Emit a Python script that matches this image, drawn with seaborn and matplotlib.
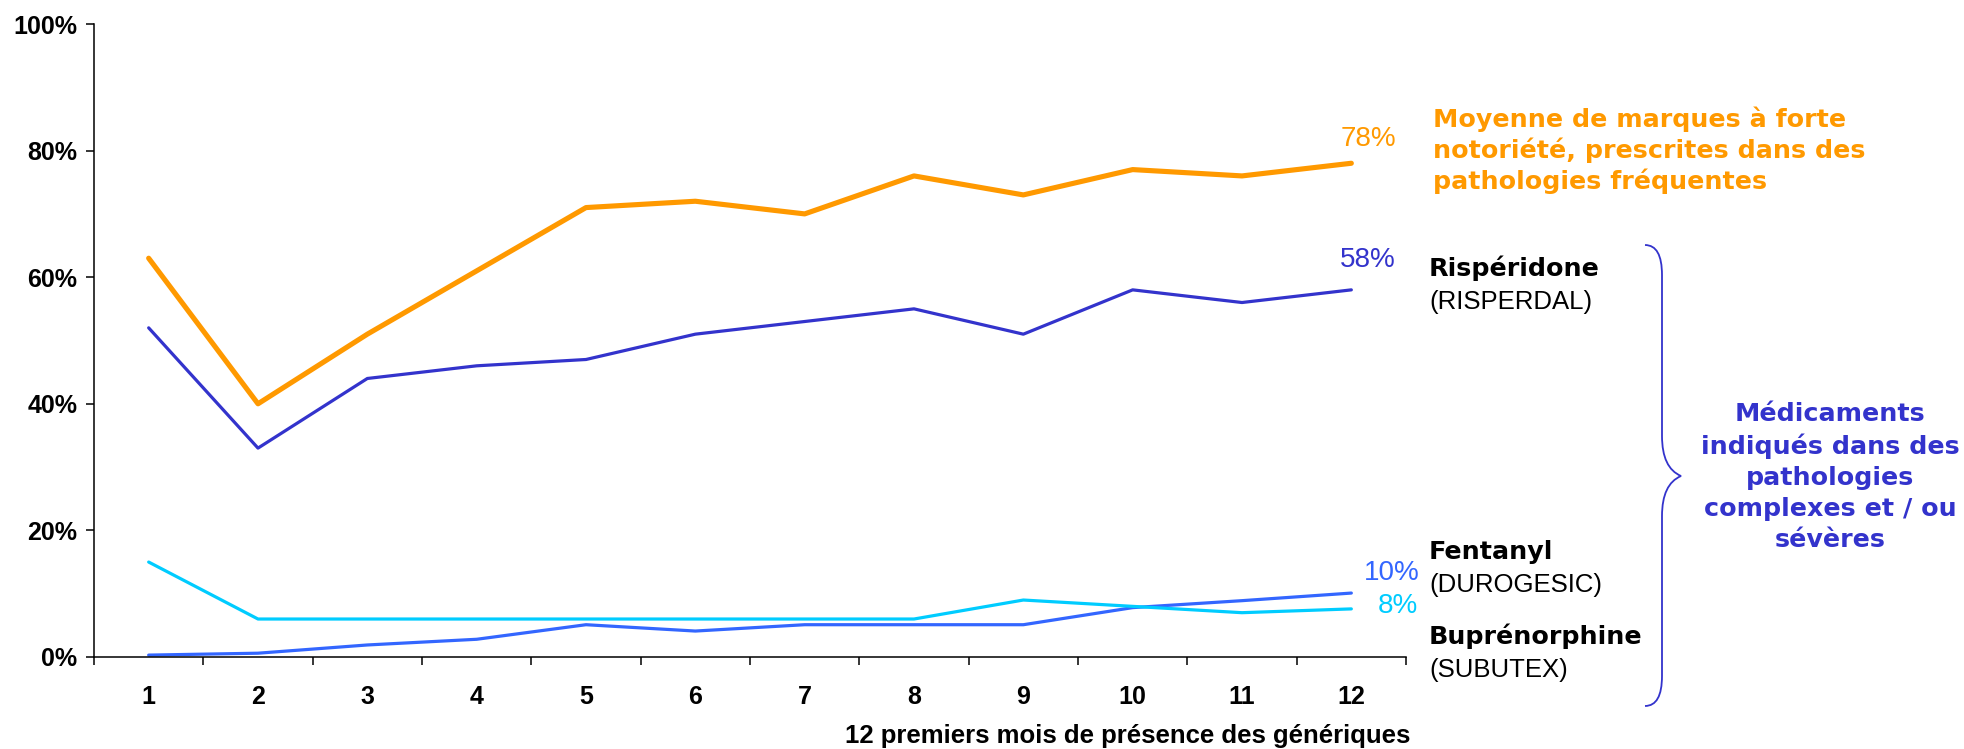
import matplotlib
matplotlib.use("Agg")
import matplotlib.pyplot as plt
from matplotlib.path import Path
from matplotlib.patches import PathPatch
import pandas as pd
import seaborn as sns

# Data
MONTHS = list(range(1, 13))
MARQUES = [63, 40, 51, 61, 71, 72, 70, 76, 73, 77, 76, 78]
RISPERIDONE = [52, 33, 44, 46, 47, 51, 53, 55, 51, 58, 56, 58]
FENTANYL = [0.3, 0.6, 1.9, 2.8, 5.1, 4.1, 5.1, 5.1, 5.1, 7.8, 8.9, 10.1]
BUPRENORPHINE = [15, 6, 6, 6, 6, 6, 6, 6, 9, 8, 7, 7.6]
SERIES = ["Marques", "Rispéridone", "Fentanyl", "Buprénorphine"]
Y_TICKS = [0, 20, 40, 60, 80, 100]
Y_LABELS = [f"{v}%" for v in Y_TICKS]
XLABEL = "12 premiers mois de présence des génériques"

COLORS = {"Marques": "#FF9900", "Rispéridone": "#3333CC",
          "Fentanyl": "#3366FF", "Buprénorphine": "#00CCFF"}
WIDTHS = {"Marques": 3.7, "Rispéridone": 2.3, "Fentanyl": 2.3, "Buprénorphine": 2.3}

W, H = 1964, 749


def fx(px):
    return px / W


def fy(px):
    return 1 - px / H


def main():
    frames = []
    for name, vals in zip(SERIES, [MARQUES, RISPERIDONE, FENTANYL, BUPRENORPHINE]):
        frames.append(pd.DataFrame({"mois": MONTHS, "part": vals, "serie": name}))
    df = pd.concat(frames, ignore_index=True)

    sns.set_style("ticks")
    plt.rcParams["font.family"] = ["Liberation Sans", "DejaVu Sans"]
    plt.rcParams["text.color"] = "black"

    fig = plt.figure(figsize=(W / 100, H / 100), dpi=100)
    ax = fig.add_axes([fx(94), fy(657), fx(1406 - 94), (657 - 24) / H])

    sns.lineplot(data=df, x="mois", y="part", hue="serie", size="serie",
                 hue_order=SERIES, size_order=SERIES,
                 palette=COLORS, sizes=WIDTHS, legend=False, ax=ax)

    ax.set_xlim(0.5, 12.5)
    ax.set_ylim(0, 100)
    ax.set_xlabel("")
    ax.set_ylabel("")
    ax.set_xticks(MONTHS, [str(m) for m in MONTHS])
    ax.set_xticks([m - 0.5 for m in MONTHS] + [12.5], minor=True)
    ax.tick_params(axis="x", which="major", length=0, pad=20)
    ax.tick_params(axis="x", which="minor", length=6, width=1.1, color="black")
    ax.set_yticks(Y_TICKS, Y_LABELS)
    ax.tick_params(axis="y", length=6, width=1.1, color="black", pad=6)
    for lab in ax.get_xticklabels() + ax.get_yticklabels():
        lab.set_fontsize(18)
        lab.set_fontweight("bold")
        lab.set_color("black")
    sns.despine(ax=ax)
    for s in ("left", "bottom"):
        ax.spines[s].set_linewidth(1.1)
        ax.spines[s].set_color("black")

    fig.text(fx(1410), fy(736), XLABEL, ha="right", va="center",
             fontsize=18.5, fontweight="bold")

    # End-of-line values
    pct = dict(fontsize=20, ha="center", va="center")
    fig.text(fx(1368), fy(139), f"{round(MARQUES[-1])}%", color=COLORS["Marques"], **pct)
    fig.text(fx(1368), fy(260), f"{round(RISPERIDONE[-1])}%", color=COLORS["Rispéridone"], **pct)
    fig.text(fx(1392), fy(573), f"{round(FENTANYL[-1])}%", color=COLORS["Fentanyl"], **pct)
    fig.text(fx(1398), fy(606), f"{round(BUPRENORPHINE[-1])}%", color=COLORS["Buprénorphine"], **pct)

    # Series labels
    bold = dict(fontsize=18.3, fontweight="bold", family="DejaVu Sans", va="center", ha="left")
    reg = dict(fontsize=18.5, va="center", ha="left")
    fig.text(fx(1433), fy(150), "Moyenne de marques à forte\nnotoriété, prescrites dans des\npathologies fréquentes",
             color=COLORS["Marques"], linespacing=1.26, **bold)
    fig.text(fx(1429), fy(268), "Rispéridone", **bold)
    fig.text(fx(1429), fy(302), "(RISPERDAL)", **reg)
    fig.text(fx(1429), fy(552), "Fentanyl", **bold)
    fig.text(fx(1429), fy(585), "(DUROGESIC)", **reg)
    fig.text(fx(1429), fy(636), "Buprénorphine", **bold)
    fig.text(fx(1429), fy(670), "(SUBUTEX)", **reg)

    fig.text(fx(1830), fy(477), "Médicaments\nindiqués dans des\npathologies\ncomplexes et / ou\nsévères",
             color=COLORS["Rispéridone"], fontsize=18.3, fontweight="bold", family="DejaVu Sans",
             ha="center", va="center", linespacing=1.36)

    # Curly brace
    x0, x1, xt = 1645, 1662, 1681
    y0, ym, y1 = 245, 476, 706
    pts = [(x0, y0), (x1, y0), (x1, y0 + 30), (x1, y0 + 30),
           (x1, ym - 40), (x1, ym - 40),
           (x1, ym - 8), (xt, ym), (xt, ym),
           (x1, ym + 8), (x1, ym + 40), (x1, ym + 40),
           (x1, y1 - 30), (x1, y1 - 30),
           (x1, y1), (x0, y1)]
    codes = [Path.MOVETO, Path.CURVE3, Path.CURVE3, Path.LINETO,
             Path.LINETO, Path.LINETO,
             Path.CURVE3, Path.CURVE3, Path.LINETO,
             Path.CURVE3, Path.CURVE3, Path.LINETO,
             Path.LINETO, Path.LINETO,
             Path.CURVE3, Path.CURVE3]
    verts = [(fx(x), fy(y)) for x, y in pts]
    brace = PathPatch(Path(verts, codes), transform=fig.transFigure, fill=False,
                      edgecolor=COLORS["Rispéridone"], linewidth=1.3)
    fig.patches.append(brace)

    fig.savefig("out.png", dpi=100)
    plt.close(fig)


if __name__ == "__main__":
    main()
